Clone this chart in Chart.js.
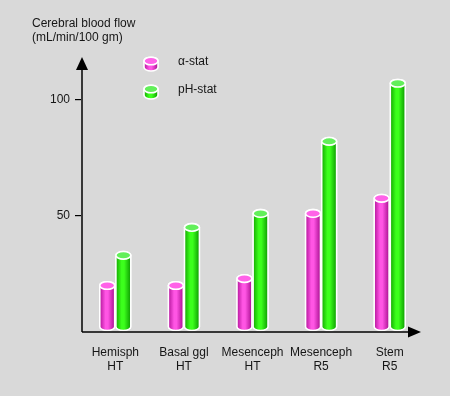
<!DOCTYPE html>
<html>
<head>
<meta charset="utf-8">
<script src="https://cdn.jsdelivr.net/npm/chart.js@4/dist/chart.umd.min.js"></script>
<style>
  html, body { margin: 0; padding: 0; background: #d9d9d9; }
  #wrap { width: 450px; height: 396px; position: relative; }
</style>
</head>
<body>
<div id="wrap"><canvas id="c" width="450" height="396"></canvas></div>
<script>
const categories = [["Hemisph", "HT"], ["Basal ggl", "HT"], ["Mesenceph", "HT"], ["Mesenceph", "R5"], ["Stem", "R5"]];
const alphaStat = [20, 20, 23, 51, 57.5];
const phStat = [33, 45, 51, 82, 107];
const seriesNames = ["\u03b1-stat", "pH-stat"];
const yTicks = [50, 100];
const titleLines = ["Cerebral blood flow", "(mL/min/100 gm)"];

const FONT = '"Liberation Sans", Arial, sans-serif';
const TEXT = '#161616';
const palette = [
  { dark: '#b3149a', light: '#ff55e4', dark2: '#a80e90', top: '#ff62e8' },
  { dark: '#12a800', light: '#3cff1c', dark2: '#0c9a00', top: '#62ef5a' }
];

function drawCylinder(ctx, x, yTop, yBase, w, pal) {
  const r = w / 2;
  const ry = 3.8;
  const bottomC = yBase - ry - 1.5;
  let topC = Math.min(yTop, bottomC);
  ctx.save();
  ctx.beginPath();
  ctx.moveTo(x - r, topC);
  ctx.lineTo(x - r, bottomC);
  ctx.ellipse(x, bottomC, r, ry, 0, Math.PI, 0, true);
  ctx.lineTo(x + r, topC);
  ctx.ellipse(x, topC, r, ry, 0, 0, Math.PI, true);
  ctx.closePath();
  const g = ctx.createLinearGradient(x - r, 0, x + r, 0);
  g.addColorStop(0, pal.dark);
  g.addColorStop(0.38, pal.light);
  g.addColorStop(0.55, pal.light);
  g.addColorStop(1, pal.dark2);
  ctx.fillStyle = g;
  ctx.fill();
  ctx.lineWidth = 1.6;
  ctx.strokeStyle = '#ffffff';
  ctx.stroke();
  ctx.beginPath();
  ctx.ellipse(x, topC, r, ry, 0, 0, Math.PI * 2);
  ctx.fillStyle = pal.top;
  ctx.fill();
  ctx.lineWidth = 1.6;
  ctx.strokeStyle = '#ffffff';
  ctx.stroke();
  ctx.restore();
}

const cylinderPlugin = {
  id: 'cyl',
  beforeDraw(chart) {
    const ctx = chart.ctx;
    ctx.save();
    ctx.fillStyle = '#d9d9d9';
    ctx.fillRect(0, 0, chart.width, chart.height);
    ctx.restore();
  },
  afterDatasetsDraw(chart) {
    const ctx = chart.ctx;
    chart.data.datasets.forEach((ds, i) => {
      const meta = chart.getDatasetMeta(i);
      meta.data.forEach(bar => {
        const p = bar.getProps(['x', 'y', 'base', 'width'], true);
        drawCylinder(ctx, p.x, p.y, p.base, p.width - 1.2, palette[i]);
      });
    });
  },
  afterDraw(chart) {
    const ctx = chart.ctx;
    const a = chart.chartArea;
    const yAxisX = a.left + 1;
    ctx.save();
    ctx.strokeStyle = '#000';
    ctx.fillStyle = '#000';
    ctx.lineWidth = 1.5;
    ctx.beginPath();
    ctx.moveTo(yAxisX, a.bottom);
    ctx.lineTo(yAxisX, a.top + 8);
    ctx.stroke();
    ctx.beginPath();
    ctx.moveTo(yAxisX, a.top - 3);
    ctx.lineTo(yAxisX - 6, a.top + 10);
    ctx.lineTo(yAxisX + 6, a.top + 10);
    ctx.closePath();
    ctx.fill();
    ctx.beginPath();
    ctx.moveTo(yAxisX, a.bottom);
    ctx.lineTo(a.right - 14, a.bottom);
    ctx.stroke();
    ctx.beginPath();
    ctx.moveTo(a.right - 3, a.bottom);
    ctx.lineTo(a.right - 16, a.bottom - 5.5);
    ctx.lineTo(a.right - 16, a.bottom + 5.5);
    ctx.closePath();
    ctx.fill();
    ctx.font = '12px ' + FONT;
    ctx.fillStyle = TEXT;
    ctx.textBaseline = 'middle';
    ctx.textAlign = 'left';
    titleLines.forEach((t, k) => ctx.fillText(t, 32, 24 + k * 14));
    chart.data.datasets.forEach((ds, i) => {
      const cy = 64 + i * 28;
      drawCylinder(ctx, 151, cy - 3, cy + 8.5, 14, palette[i]);
      ctx.fillStyle = TEXT;
      ctx.font = '12px ' + FONT;
      ctx.fillText(ds.label, 178, cy - 2);
    });
    ctx.restore();
  }
};

new Chart(document.getElementById('c'), {
  type: 'bar',
  data: {
    labels: categories,
    datasets: [
      { label: seriesNames[0], data: alphaStat, backgroundColor: 'rgba(0,0,0,0)', borderWidth: 0 },
      { label: seriesNames[1], data: phStat, backgroundColor: 'rgba(0,0,0,0)', borderWidth: 0 }
    ]
  },
  options: {
    responsive: false,
    animation: false,
    devicePixelRatio: 1,
    layout: { padding: { left: 0, right: 26, top: 60, bottom: 0 } },
    plugins: { legend: { display: false }, tooltip: { enabled: false }, title: { display: false } },
    datasets: { bar: { categoryPercentage: 0.47, barPercentage: 1.0 } },
    scales: {
      x: {
        grid: { display: false, drawTicks: false },
        border: { display: false },
        ticks: {
          color: TEXT,
          font: { family: FONT, size: 12, lineHeight: 1.2 },
          padding: 13,
          maxRotation: 0,
          autoSkip: false
        },
        afterFit(scale) { scale.height = 64; }
      },
      y: {
        min: 0,
        max: 117,
        afterBuildTicks(scale) { scale.ticks = yTicks.map(v => ({ value: v })); },
        grid: { drawOnChartArea: false, drawTicks: true, tickLength: 6, color: '#000', lineWidth: 1.2 },
        border: { display: false },
        ticks: {
          color: TEXT,
          font: { family: FONT, size: 12 },
          padding: 5
        },
        afterFit(scale) { scale.width = 81; }
      }
    }
  },
  plugins: [cylinderPlugin]
});
</script>
</body>
</html>
